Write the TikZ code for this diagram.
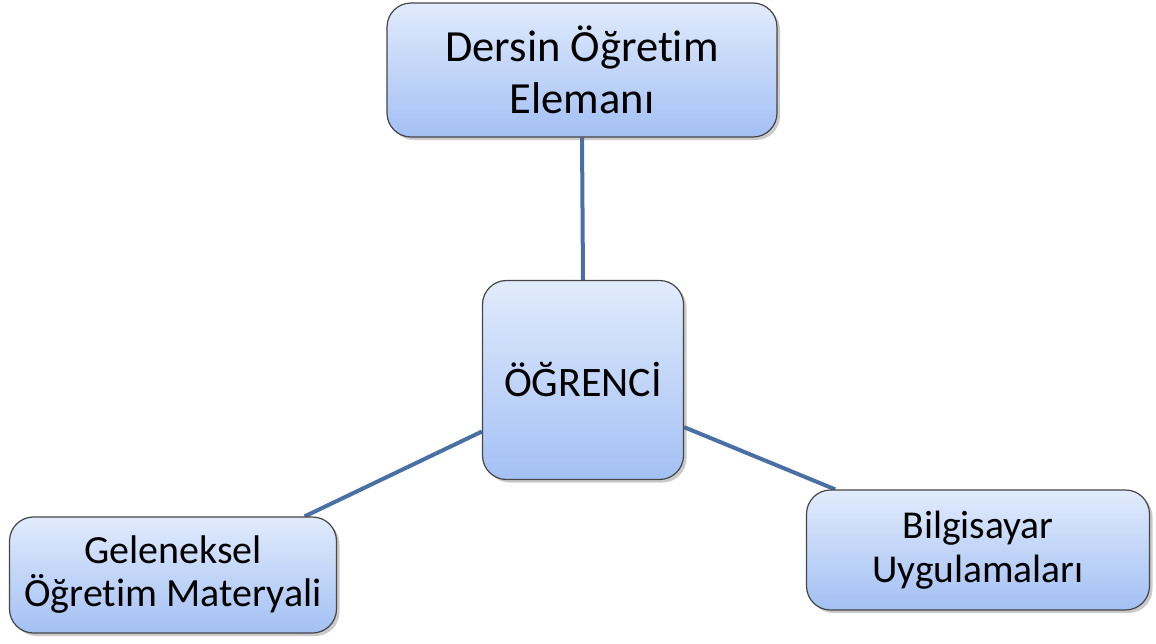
\documentclass[tikz,border=0pt]{standalone}
\usepackage{fontspec}
\setmainfont{Carlito}[Ligatures=CommonOff]
\usetikzlibrary{shadows,backgrounds}
\definecolor{boxtop}{HTML}{E1EBFC}
\definecolor{boxbot}{HTML}{A3C0F4}
\definecolor{boxline}{HTML}{454545}
\definecolor{linkblue}{HTML}{4A6FA5}
\tikzset{
  unit/.style={draw=boxline, line width=1.2pt, rounded corners=24pt,
    top color=boxtop, bottom color=boxbot, align=center, inner sep=0pt,
    drop shadow={shadow xshift=3pt, shadow yshift=-3pt, opacity=0.35, fill=black!60}},
  link/.style={draw=linkblue, line width=4pt}
}
\begin{document}
\begin{tikzpicture}[x=1pt,y=-1pt]
\useasboundingbox (0,0) rectangle (1156,643);
\node[unit, minimum width=390pt, minimum height=134pt,
  font=\fontsize{44.5}{52}\selectfont] (teacher) at (582,70) {Dersin Öğretim\\Elemanı};
\node[unit, minimum width=201pt, minimum height=199pt,
  font=\fontsize{42}{48}\selectfont] (student) at (583,380) {ÖĞRENCİ};
\node[unit, minimum width=327pt, minimum height=116pt,
  font=\fontsize{40}{43}\selectfont] (classic) at (173,575) {Geleneksel\\Öğretim Materyali};
\node[unit, minimum width=343pt, minimum height=120pt,
  font=\fontsize{39.5}{44}\selectfont] (computer) at (978,550) {Bilgisayar\\Uygulamaları};
\begin{scope}[on background layer]
\draw[link] (teacher.south) -- (student.north);
\draw[link] (student.207) -- (classic.24.5);
\draw[link] (student.-25) -- (computer.157);
\end{scope}
\end{tikzpicture}
\end{document}
